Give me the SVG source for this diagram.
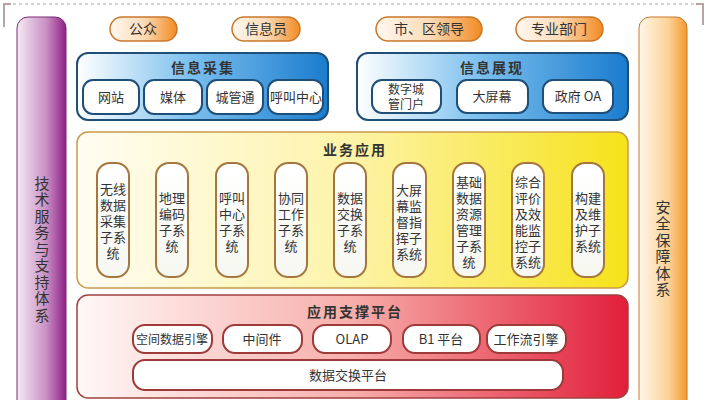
<svg xmlns="http://www.w3.org/2000/svg" width="706" height="400" viewBox="0 0 706 400">
<defs>
<linearGradient id="gPurple" x1="0" y1="0" x2="1" y2="0"><stop offset="0" stop-color="#f4eaf3"/><stop offset="0.6" stop-color="#c98fc3"/><stop offset="1" stop-color="#8e2286"/></linearGradient>
<linearGradient id="gOrange" x1="0" y1="0" x2="1" y2="0"><stop offset="0" stop-color="#fff6e8"/><stop offset="0.6" stop-color="#fbd39a"/><stop offset="1" stop-color="#f39a2c"/></linearGradient>
<linearGradient id="gPill" x1="0" y1="0" x2="1" y2="0"><stop offset="0" stop-color="#fff8f0"/><stop offset="0.5" stop-color="#fcdcb8"/><stop offset="1" stop-color="#f28a22"/></linearGradient>
<linearGradient id="gBlue" x1="0" y1="0" x2="1" y2="0"><stop offset="0" stop-color="#ffffff"/><stop offset="0.45" stop-color="#7cc0ee"/><stop offset="1" stop-color="#1a7cce"/></linearGradient>
<linearGradient id="gYellow" x1="0" y1="0" x2="1" y2="0"><stop offset="0" stop-color="#fffdf3"/><stop offset="0.5" stop-color="#fdf3a8"/><stop offset="1" stop-color="#f6e21a"/></linearGradient>
<linearGradient id="gRed" x1="0" y1="0" x2="1" y2="0"><stop offset="0" stop-color="#fff8f6"/><stop offset="0.5" stop-color="#f7aeaa"/><stop offset="1" stop-color="#e21e3a"/></linearGradient>
<linearGradient id="gWhite" x1="0" y1="0" x2="0" y2="1"><stop offset="0" stop-color="#ffffff"/><stop offset="1" stop-color="#f7f7f2"/></linearGradient>
</defs>
<style>
text{font-family:"Noto Sans CJK SC","Noto Sans",sans-serif;fill:#333;text-anchor:middle;}
.t14{font-size:14px;}
.t13{font-size:13px;}
.t12{font-size:12px;}
.st{font-family:"Liberation Sans","Noto Sans CJK SC",sans-serif;}
.ttl{font-size:14px;font-weight:bold;letter-spacing:2px;}
.vt{font-size:15px;writing-mode:vertical-rl;letter-spacing:1.5px;}
.pill{fill:url(#gPill);stroke:#c9772a;stroke-width:1.5;}
.bin{fill:#fff;stroke:#1f4f78;stroke-width:2;}
.sub{fill:url(#gWhite);stroke:#a5773e;stroke-width:2;}
.rin{fill:#fff;stroke:#9e3a3a;stroke-width:2;}
</style>
<g id="frame">
<line x1="13" y1="4" x2="694" y2="4" stroke="#a9a9a9" stroke-width="1" stroke-dasharray="3,3"/>
<path d="M4 27 V4 H11" fill="none" stroke="#b8a4a4" stroke-width="2"/>
<path d="M696 4 H703 V25" fill="none" stroke="#b8a4a4" stroke-width="2"/>
</g>
<g id="tech-support">
<rect x="17" y="17" width="49" height="400" rx="11" fill="url(#gPurple)" stroke="#7a2a72" stroke-width="1"/>
<text class="vt" x="42" y="250">技术服务与支持体系</text>
</g>
<g id="security">
<rect x="639" y="17" width="48" height="400" rx="11" fill="url(#gOrange)" stroke="#c9772a" stroke-width="1"/>
<text class="vt" x="663" y="249">安全保障体系</text>
</g>
<g id="user-public"><rect class="pill" x="110" y="17" width="67" height="24" rx="12"/><text class="t14" x="143" y="34">公众</text></g>
<g id="user-info"><rect class="pill" x="232" y="17" width="68" height="24" rx="12"/><text class="t14" x="266" y="34">信息员</text></g>
<g id="user-leader"><rect class="pill" x="376" y="17" width="106" height="24" rx="12"/><text class="t14" x="429" y="34">市、区领导</text></g>
<g id="user-dept"><rect class="pill" x="516" y="17" width="87" height="24" rx="12"/><text class="t14" x="559" y="34">专业部门</text></g>
<g id="collect">
<rect x="77" y="53" width="251" height="67" rx="11" fill="url(#gBlue)" stroke="#1f4f78" stroke-width="2"/>
<text class="ttl" x="203" y="73">信息采集</text>
<rect class="bin" x="83" y="80" width="56" height="34" rx="10"/><text class="t13" x="111" y="102">网站</text>
<rect class="bin" x="144" y="80" width="58" height="34" rx="10"/><text class="t13" x="173" y="102">媒体</text>
<rect class="bin" x="207" y="80" width="56" height="34" rx="10"/><text class="t13" x="235" y="102">城管通</text>
<rect class="bin" x="268" y="80" width="55" height="34" rx="10"/><text class="t13" x="296" y="102">呼叫中心</text>
</g>
<g id="display">
<rect x="357" y="53" width="271" height="67" rx="11" fill="url(#gBlue)" stroke="#1f4f78" stroke-width="2"/>
<text class="ttl" x="492" y="73">信息展现</text>
<rect class="bin" x="372" y="80" width="69" height="33" rx="10"/><text class="t12 st" x="406" y="94">数字城<tspan x="406" dy="15">管门户</tspan></text>
<rect class="bin" x="457" y="80" width="71" height="33" rx="10"/><text class="t13" x="492" y="101">大屏幕</text>
<rect class="bin" x="543" y="80" width="70" height="33" rx="10"/><text class="t13" x="578" y="101">政府 OA</text>
</g>
<g id="business">
<rect x="77" y="132" width="551" height="156" rx="11" fill="url(#gYellow)" stroke="#c99a4a" stroke-width="1.5"/>
<text class="ttl" x="355" y="155">业务应用</text>
<rect class="sub" x="97" y="163" width="32" height="114" rx="13"/>
<text class="t13 st" x="113" y="194">无线<tspan x="113" dy="16">数据</tspan><tspan x="113" dy="16">采集</tspan><tspan x="113" dy="16">子系</tspan><tspan x="113" dy="16">统</tspan></text>
<rect class="sub" x="156" y="163" width="32" height="114" rx="13"/>
<text class="t13 st" x="172" y="203">地理<tspan x="172" dy="16">编码</tspan><tspan x="172" dy="16">子系</tspan><tspan x="172" dy="16">统</tspan></text>
<rect class="sub" x="216" y="163" width="32" height="114" rx="13"/>
<text class="t13 st" x="232" y="203">呼叫<tspan x="232" dy="16">中心</tspan><tspan x="232" dy="16">子系</tspan><tspan x="232" dy="16">统</tspan></text>
<rect class="sub" x="275" y="163" width="32" height="114" rx="13"/>
<text class="t13 st" x="291" y="203">协同<tspan x="291" dy="16">工作</tspan><tspan x="291" dy="16">子系</tspan><tspan x="291" dy="16">统</tspan></text>
<rect class="sub" x="334" y="163" width="32" height="114" rx="13"/>
<text class="t13 st" x="350" y="203">数据<tspan x="350" dy="16">交换</tspan><tspan x="350" dy="16">子系</tspan><tspan x="350" dy="16">统</tspan></text>
<rect class="sub" x="393" y="163" width="33" height="114" rx="13"/>
<text class="t13 st" x="409" y="195">大屏<tspan x="409" dy="16">幕监</tspan><tspan x="409" dy="16">督指</tspan><tspan x="409" dy="16">挥子</tspan><tspan x="409" dy="16">系统</tspan></text>
<rect class="sub" x="453" y="163" width="32" height="114" rx="13"/>
<text class="t13 st" x="469" y="187">基础<tspan x="469" dy="16">数据</tspan><tspan x="469" dy="16">资源</tspan><tspan x="469" dy="16">管理</tspan><tspan x="469" dy="16">子系</tspan><tspan x="469" dy="16">统</tspan></text>
<rect class="sub" x="512" y="163" width="32" height="114" rx="13"/>
<text class="t13 st" x="528" y="187">综合<tspan x="528" dy="16">评价</tspan><tspan x="528" dy="16">及效</tspan><tspan x="528" dy="16">能监</tspan><tspan x="528" dy="16">控子</tspan><tspan x="528" dy="16">系统</tspan></text>
<rect class="sub" x="572" y="163" width="32" height="114" rx="13"/>
<text class="t13 st" x="588" y="203">构建<tspan x="588" dy="16">及维</tspan><tspan x="588" dy="16">护子</tspan><tspan x="588" dy="16">系统</tspan></text>
</g>
<g id="support">
<rect x="77" y="295" width="551" height="103" rx="11" fill="url(#gRed)" stroke="#a04040" stroke-width="1.5"/>
<text class="ttl" x="355" y="317">应用支撑平台</text>
<rect class="rin" x="133" y="325" width="79" height="28" rx="12"/><text class="t12" x="172" y="344">空间数据引擎</text>
<rect class="rin" x="223" y="325" width="79" height="28" rx="12"/><text class="t13" x="262" y="344">中间件</text>
<rect class="rin" x="313" y="325" width="78" height="28" rx="12"/><text class="t13" x="352" y="344">OLAP</text>
<rect class="rin" x="403" y="325" width="77" height="28" rx="12"/><text class="t13" x="441" y="344">B1 平台</text>
<rect class="rin" x="487" y="325" width="79" height="28" rx="12"/><text class="t13" x="526" y="344">工作流引擎</text>
<rect class="rin" x="133" y="360" width="430" height="30" rx="12"/><text class="t13" x="348" y="380">数据交换平台</text>
</g>
</svg>
